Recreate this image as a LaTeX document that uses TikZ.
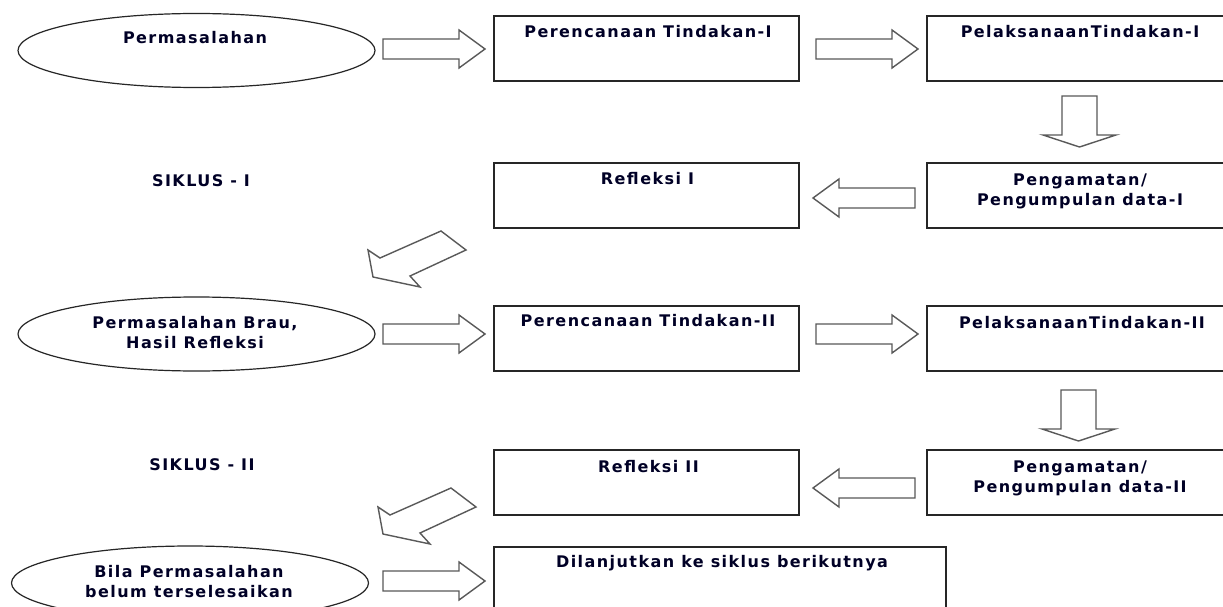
\documentclass[tikz,border=0pt]{standalone}
\usepackage{fontspec}
\newfontfamily\lblfont{DejaVu Sans}[LetterSpace=9]
\usetikzlibrary{shapes.geometric}
\begin{document}
\begin{tikzpicture}[x=1pt,y=-1pt,
  boxst/.style={rectangle, draw=black!85, line width=1.4pt, minimum width=#1, minimum height=65pt, inner sep=0pt},
  boxst/.default=305pt,
  ell/.style={ellipse, draw=black!85, line width=1.2pt, minimum width=357pt, minimum height=74pt, inner sep=0pt},
  lbl/.style={font={\lblfont\bfseries\fontsize{16}{20}\selectfont}, text=black!85!blue, inner sep=0pt, align=center},
  blk/.style={draw=black!65, line width=1.4pt, fill=white, line join=miter},
  rarr/.pic={\draw[blk] (0,-10) -- (76,-10) -- (76,-19) -- (102,0) -- (76,19) -- (76,10) -- (0,10) -- cycle;},
  darr/.pic={\draw[blk] (-17.5,0) -- (-17.5,39) -- (-36.5,39) -- (0,51) -- (36.5,39) -- (17.5,39) -- (17.5,0) -- cycle;}
]
\useasboundingbox (0,0) rectangle (1223,607);
\fill[white] (0,0) rectangle (1223,607);

% ellipses
\node[ell] (e1) at (196.5,50.5) {};
\node[ell] (e2) at (196.5,334) {};
\node[ell] (e3) at (190,583) {};

% boxes
\node[boxst] (b1) at (646.5,48.5) {};
\node[boxst=306pt] (b2) at (1080,48.5) {};
\node[boxst] (b3) at (646.5,195.5) {};
\node[boxst=306pt] (b4) at (1080,195.5) {};
\node[boxst] (b5) at (646.5,338.5) {};
\node[boxst=306pt] (b6) at (1080,338.5) {};
\node[boxst] (b7) at (646.5,482.5) {};
\node[boxst=306pt] (b8) at (1080,482.5) {};
\node[boxst=452pt] (b9) at (720,579.5) {};

% texts
\node[lbl, anchor=base] (t1) at (195,44) {Permasalahan};
\node[lbl, anchor=base] (s1) at (201,186) {SIKLUS - I};
\node[lbl, anchor=base] (t2) at (648,38) {Perencanaan Tindakan-I};
\node[lbl, anchor=base] (t3) at (1080,38) {PelaksanaanTindakan-I};
\node[lbl, anchor=base] (t4) at (647.5,184) {Refleksi I};
\node[lbl] (t5) at (1080,191) {Pengamatan/\\Pengumpulan data-I};
\node[lbl] (t6) at (195,333) {Permasalahan Brau,\\Hasil Refleksi};
\node[lbl, anchor=base] (t7) at (648,326) {Perencanaan Tindakan-II};
\node[lbl, anchor=base] (t8) at (1082,328) {PelaksanaanTindakan-II};
\node[lbl, anchor=base] (s2) at (202,470) {SIKLUS - II};
\node[lbl, anchor=base] (t9) at (648.5,472) {Refleksi II};
\node[lbl] (t10) at (1080,478) {Pengamatan/\\Pengumpulan data-II};
\node[lbl] (t11) at (189,582) {Bila Permasalahan\\belum terselesaikan};
\node[lbl, anchor=base] (t12) at (722,567) {Dilanjutkan ke siklus berikutnya};

% block arrows
\pic at (383,49) {rarr};
\pic at (816,49) {rarr};
\pic at (1079.5,96) {darr};
\pic[rotate=180] at (915,198) {rarr};
\draw[blk] (441,231) -- (466,250) -- (410,276) -- (420,287) -- (373,277) -- (368,250) -- (380,258) -- cycle;
\pic at (383,334) {rarr};
\pic at (816,334) {rarr};
\pic at (1078.5,390) {darr};
\pic[rotate=180] at (915,488) {rarr};
\draw[blk] (451,488) -- (476,507) -- (420,533) -- (430,544) -- (383,534) -- (378,507) -- (390,515) -- cycle;
\pic at (383,581) {rarr};
\end{tikzpicture}
\end{document}
